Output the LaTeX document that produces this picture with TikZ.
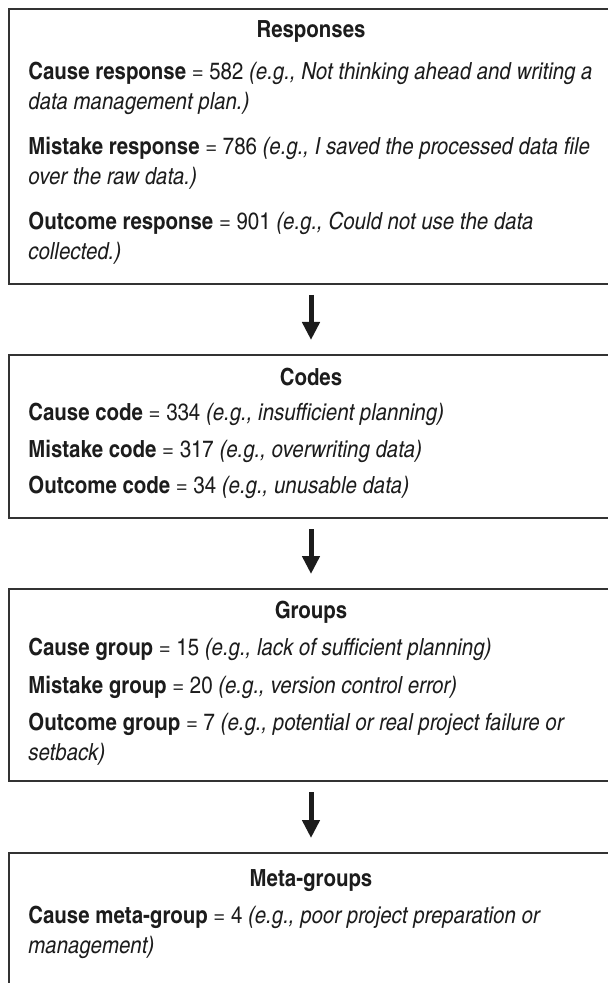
\documentclass[tikz,border=0pt]{standalone}
\usepackage{fontspec}
\setmainfont{texgyreheroscn}[Extension=.otf, UprightFont=*-regular, BoldFont=*-bold, ItalicFont=*-italic, BoldItalicFont=*-bolditalic, FakeStretch=1.055]
\usetikzlibrary{arrows.meta}
\definecolor{boxgray}{HTML}{333333}
\definecolor{inkblack}{HTML}{1C1C1C}
\newcommand{\flowfont}{\fontsize{11.8pt}{15pt}\selectfont}

\tikzset{
  stagebox/.style={draw=boxgray, line width=1.4pt, outer sep=0pt, minimum width=302pt, anchor=north},
  stagetitle/.style={anchor=base, font=\flowfont\bfseries, text=inkblack, inner sep=0pt},
  entry/.style={anchor=base west, font=\flowfont, text=inkblack, inner sep=0pt},
  flow/.style={line width=2.5pt, draw=inkblack, -{Triangle[width=8.5pt,length=9pt]}, shorten <=5.5pt, shorten >=7.5pt}
}

\begin{document}
\begin{tikzpicture}[x=0.5pt, y=-0.5pt]
    \useasboundingbox (0,0) rectangle (608,983);
    \clip (0,0) rectangle (608,983);

    % Responses
    \node[stagebox, minimum height=137.5pt] (resp) at (311,9) {};
    \node[stagetitle] (resp-title) at (311,38) {Responses};
    \node[entry] (resp-cause) at (28,80) {\textbf{Cause response} = 582 \textit{(e.g., Not thinking ahead and writing a}};
    \node[entry] (resp-cause-2) at (28,110) {\textit{data management plan.)}};
    \node[entry] (resp-mistake) at (28,155) {\textbf{Mistake response} = 786 \textit{(e.g., I saved the processed data file}};
    \node[entry] (resp-mistake-2) at (28,185) {\textit{over the raw data.)}};
    \node[entry] (resp-outcome) at (28,230) {\textbf{Outcome response} = 901 \textit{(e.g., Could not use the data}};
    \node[entry] (resp-outcome-2) at (28,260) {\textit{collected.)}};

    % Codes
    \node[stagebox, minimum height=81.5pt] (codes) at (311,355) {};
    \node[stagetitle] (codes-title) at (311,386) {Codes};
    \node[entry] (codes-cause) at (28,420) {\textbf{Cause code} = 334 \textit{(e.g., insufficient planning)}};
    \node[entry] (codes-mistake) at (28,457) {\textbf{Mistake code} = 317 \textit{(e.g., overwriting data)}};
    \node[entry] (codes-outcome) at (28,493) {\textbf{Outcome code} = 34 \textit{(e.g., unusable data)}};

    % Groups
    \node[stagebox, minimum height=96pt] (groups) at (311,589) {};
    \node[stagetitle] (groups-title) at (311,618) {Groups};
    \node[entry] (groups-cause) at (28,655) {\textbf{Cause group} = 15 \textit{(e.g., lack of sufficient planning)}};
    \node[entry] (groups-mistake) at (28,693) {\textbf{Mistake group} = 20 \textit{(e.g., version control error)}};
    \node[entry] (groups-outcome) at (28,730) {\textbf{Outcome group} = 7 \textit{(e.g., potential or real project failure or}};
    \node[entry] (groups-outcome-2) at (28,760) {\textit{setback)}};

    % Meta-groups
    \node[stagebox, minimum height=80pt] (meta) at (311,853) {};
    \node[stagetitle] (meta-title) at (311,886) {Meta-groups};
    \node[entry] (meta-cause) at (28,923) {\textbf{Cause meta-group} = 4 \textit{(e.g., poor project preparation or}};
    \node[entry] (meta-cause-2) at (28,953) {\textit{management)}};

    % arrows between stages
    \draw[flow] (resp) -- (codes);
    \draw[flow] (codes) -- (groups);
    \draw[flow] (groups) -- (meta);
\end{tikzpicture}
\end{document}
